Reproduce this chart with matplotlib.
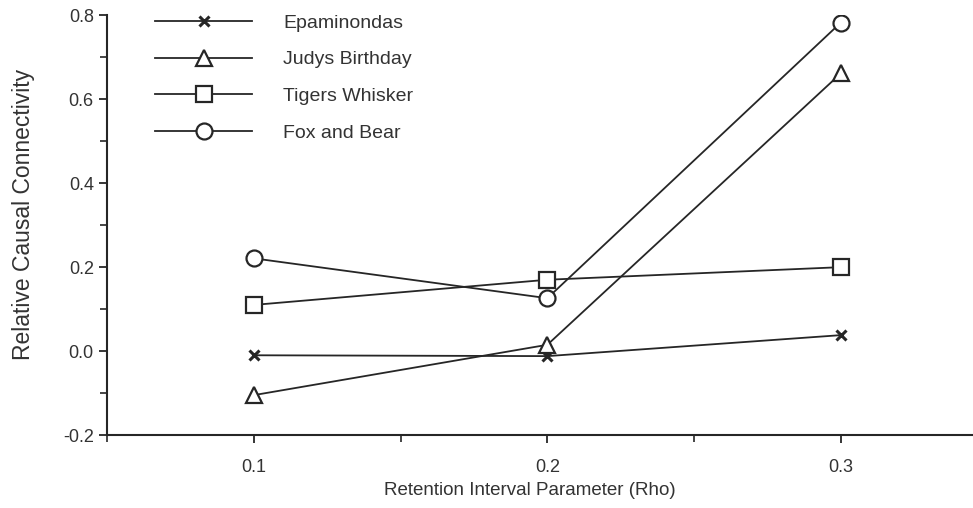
import matplotlib
matplotlib.use("Agg")
import matplotlib.pyplot as plt
from matplotlib.ticker import MultipleLocator

plt.rcParams['font.family'] = ['Liberation Sans', 'DejaVu Sans']

# data
rho = [0.1, 0.2, 0.3]
epaminondas = [-0.01, -0.012, 0.038]
judys_birthday = [-0.105, 0.015, 0.662]
tigers_whisker = [0.11, 0.17, 0.20]
fox_and_bear = [0.221, 0.126, 0.783]

ink = '#262626'
txt = '#333333'

fig = plt.figure(figsize=(9.73, 5.08), dpi=100)
ax = fig.add_axes([0.110, 0.1437, 0.890, 0.826])

ax.plot(rho, epaminondas, color=ink, lw=1.3, marker='x', ms=7, mew=2.2,
        label='Epaminondas')
ax.plot(rho, judys_birthday, color=ink, lw=1.3, marker='^', ms=11.5, mew=1.6,
        mfc='white', label='Judys Birthday')
ax.plot(rho, tigers_whisker, color=ink, lw=1.3, marker='s', ms=11.5, mew=1.6,
        mfc='white', label='Tigers Whisker')
ax.plot(rho, fox_and_bear, color=ink, lw=1.3, marker='o', ms=11.5, mew=1.6,
        mfc='white', label='Fox and Bear')

ax.set_xlim(0.05, 0.345)
ax.set_ylim(-0.2, 0.8)
ax.set_xticks(rho)
ax.set_xticklabels(['0.1', '0.2', '0.3'])
ax.xaxis.set_minor_locator(MultipleLocator(0.05))
ax.set_yticks([-0.2, 0.0, 0.2, 0.4, 0.6, 0.8])
ax.set_yticklabels(['-0.2', '0.0', '0.2', '0.4', '0.6', '0.8'])
ax.yaxis.set_minor_locator(MultipleLocator(0.1))

for s in ['top', 'right']:
    ax.spines[s].set_visible(False)
for s in ['left', 'bottom']:
    ax.spines[s].set_color(ink)
    ax.spines[s].set_linewidth(1.5)

ax.tick_params(which='major', direction='out', length=6, width=1.3,
               colors=ink, labelsize=13, labelcolor=txt)
ax.tick_params(which='minor', direction='out', length=5, width=1.2, colors=ink)
ax.tick_params(axis='x', pad=11)

ax.set_xlabel('Retention Interval Parameter (Rho)', fontsize=13.5, color=txt)
ax.xaxis.set_label_coords(0.488, -0.112)
ax.set_ylabel('Relative Causal Connectivity', fontsize=16.5, color=txt)
ax.yaxis.set_label_coords(-0.083, 0.525)

leg = ax.legend(loc='upper left', bbox_to_anchor=(0.0554, 1.003), frameon=False,
                fontsize=14, handlelength=5.0, labelspacing=0.98,
                handletextpad=1.6, borderpad=0, borderaxespad=0)
for t in leg.get_texts():
    t.set_color(txt)

fig.savefig('out.png', dpi=100)
